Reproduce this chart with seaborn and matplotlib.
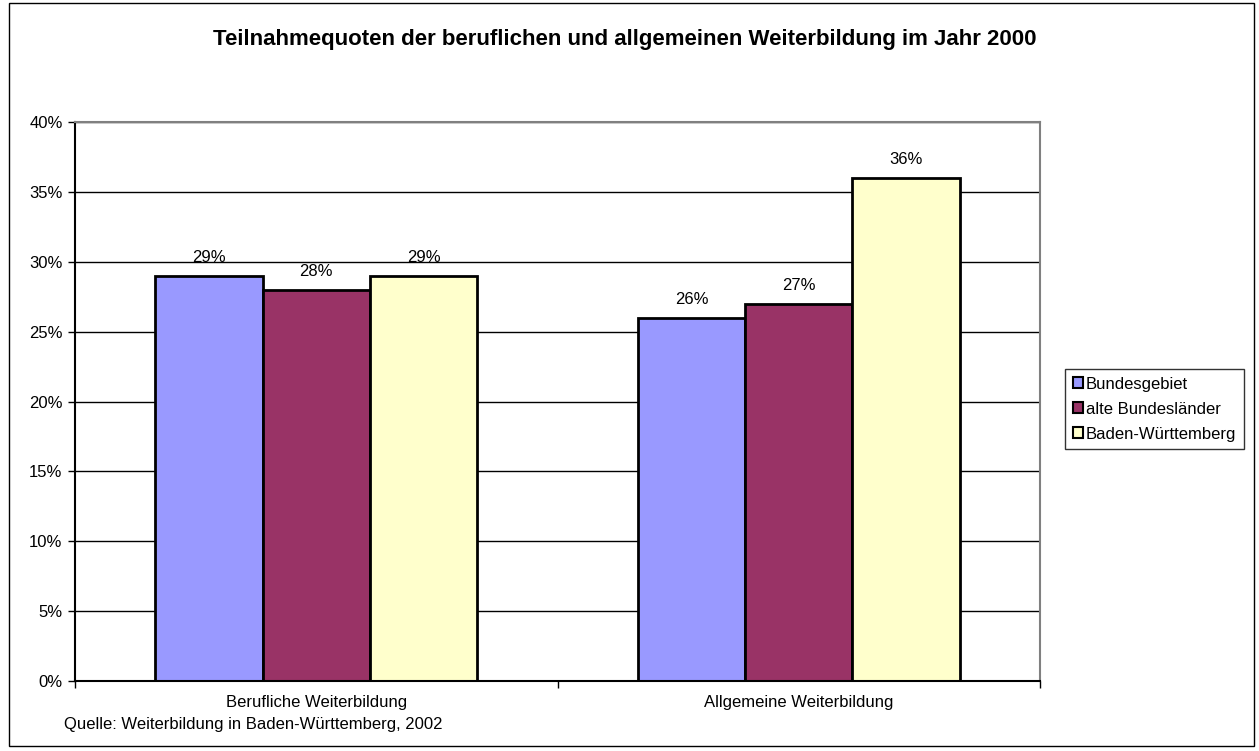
import pandas as pd
import numpy as np
import matplotlib
matplotlib.use("Agg")
import matplotlib.pyplot as plt
import seaborn as sns
from matplotlib.ticker import PercentFormatter, FixedLocator

# =========================
# DATOS
# =========================
kategorien = ["Berufliche Weiterbildung", "Allgemeine Weiterbildung"]
regionen = ["Bundesgebiet", "alte Bundesländer", "Baden-Württemberg"]
bundesgebiet = [29, 26]
alte_laender = [28, 27]
baden_wuerttemberg = [29, 36]
farben = ["#9999FF", "#993366", "#FFFFCC"]

df = pd.DataFrame({
    "Kategorie": kategorien * 3,
    "Region": [r for r in regionen for _ in kategorien],
    "Quote": bundesgebiet + alte_laender + baden_wuerttemberg,
})

# =========================
# PLOT
# =========================
sns.set_style("white")
plt.rcParams["font.family"] = ["Liberation Sans", "DejaVu Sans"]
plt.rcParams["text.color"] = "black"
plt.rcParams["xtick.color"] = "black"
plt.rcParams["ytick.color"] = "black"

fig = plt.figure(figsize=(12.59, 7.51), dpi=100)
ax = fig.add_axes([75 / 1259, 1 - 681 / 751, 965 / 1259, 559 / 751])

sns.barplot(
    data=df, x="Kategorie", y="Quote", hue="Region",
    hue_order=regionen, order=kategorien,
    palette=farben, width=0.667, edgecolor="black", linewidth=2,
    saturation=1, ax=ax, legend=True,
)

for cont in ax.containers:
    ax.bar_label(cont, labels=[f"{v:.0f}%" for v in cont.datavalues],
                 padding=8, fontsize=12)

ax.set_ylim(0, 40)
ax.set_xlim(-0.5, 1.5)
ax.yaxis.set_major_locator(FixedLocator(np.arange(0, 41, 5)))
ax.yaxis.set_major_formatter(PercentFormatter(decimals=0))
ax.grid(axis="y", color="black", linewidth=1)
ax.set_axisbelow(True)

# Ticks an den Kategoriegrenzen
ax.set_xticks([0, 1])
ax.set_xticks([-0.5, 0.5, 1.5], minor=True)
ax.tick_params(axis="x", which="major", length=0, pad=10, labelsize=12)
ax.tick_params(axis="x", which="minor", length=5, width=1, direction="out",
               color="black", bottom=True)
ax.tick_params(axis="y", length=5, width=1, direction="out", color="black",
               left=True, labelsize=12, pad=4)
ax.set_xlabel("")
ax.set_ylabel("")

for s in ["left", "bottom"]:
    ax.spines[s].set_color("black")
    ax.spines[s].set_linewidth(1.5)
for s in ["top", "right"]:
    ax.spines[s].set_color("#808080")
    ax.spines[s].set_linewidth(1.5)

leg = ax.legend(loc="center left", bbox_to_anchor=(1065 / 1259, 1 - 409 / 751),
                bbox_transform=fig.transFigure, frameon=True, fancybox=False,
                fontsize=12, handlelength=0.65, handleheight=0.65,
                handletextpad=0.15, labelspacing=0.6, borderpad=0.45,
                borderaxespad=0)
leg.get_frame().set_edgecolor("black")
leg.get_frame().set_linewidth(1)
for h in leg.legend_handles:
    h.set_edgecolor("black")
    h.set_linewidth(1.5)

fig.text(625 / 1259, 1 - 39 / 751,
         "Teilnahmequoten der beruflichen und allgemeinen Weiterbildung im Jahr 2000",
         ha="center", va="center", fontsize=16, fontweight="bold")
fig.text(64 / 1259, 1 - 724 / 751,
         "Quelle: Weiterbildung in Baden-Württemberg, 2002",
         ha="left", va="center", fontsize=12)

fig.patches.append(plt.Rectangle((9 / 1259, 5 / 751), 1245 / 1259, 743 / 751,
                                 transform=fig.transFigure, fill=False,
                                 edgecolor="black", linewidth=1))

plt.savefig("out.png", dpi=100)
